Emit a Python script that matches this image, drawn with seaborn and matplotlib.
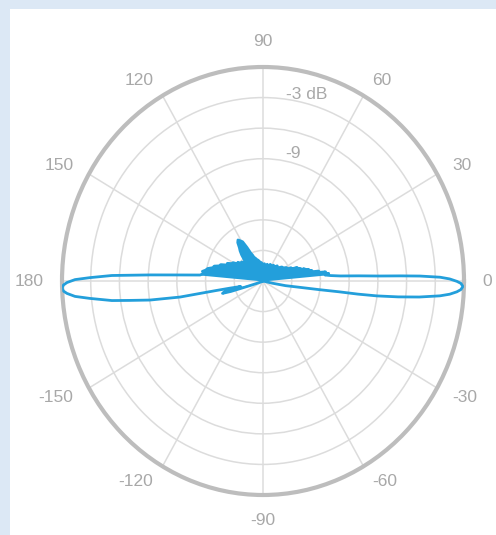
import numpy as np
import pandas as pd
import matplotlib
matplotlib.use("Agg")
import matplotlib.pyplot as plt
from matplotlib.patches import Rectangle
import seaborn as sns

# Radiation pattern: azimuth (deg, counter-clockwise from 0) and relative gain (dB)
angle_deg = [
    -14, -12.5, -11, -9.5, -8.2, -7.6, -7.4, -7.0, -6.3, -5.5, -4.5, -3.8,
    -3.0, -2.35, -1.5, -0.65, -0.1, 0.6, 1.15, 1.7, 2.0, 2.3, 2.9, 3.5, 4.3,
    5.2,
    6.2, 7, 7.8, 8.6, 9.5, 10.5, 11.5, 12.5, 13.5, 14.5, 15.5, 16.5, 17.5,
    19, 20.5, 22, 24, 26, 28, 31, 35, 40, 45, 50, 55, 60, 65, 70, 75, 80,
    85, 90, 95, 100, 104, 107, 110, 112, 113.5, 115, 117, 119, 121, 123,
    125, 127, 129, 131, 133, 135, 137.5, 140, 142.5, 145,
    147.5, 150, 152.5, 155, 157.5, 160, 162, 164, 166, 168, 170, 171.5,
    173, 174.9,
    176.3, 177.1, 178.04, 178.96, 179.6, 180.42, 181.08, 181.87, 182.7,
    183.4, 184.4, 185.4, 186.93, 187.8, 189.0, 190.3, 190.5, 190.8, 191.5,
    193,
    194, 195, 196, 197, 198, 200, 205, 220, 260, 300, 340, 346,
]
gain_db = [
    -21, -20, -18.6, -17.5, -15, -13, -11, -9, -6.8, -4.6, -2.45, -1.45,
    -0.72, -0.32, -0.1, -0.32, -0.74, -1.5, -2.5, -4.6, -6.6, -8.8, -11,
    -12.9, -13.9, -14.5,
    -14.1, -14.8, -14.4, -15.6, -15.1, -16.2, -15.8, -16.6, -16.1, -16.9,
    -16.5, -17.2, -16.9, -17.4, -17.2, -17.9, -17.8, -18.4, -18.2, -18.5,
    -18.6, -19.0, -18.9, -19.2, -19.1, -19.4, -19.2, -19.5, -19.3, -19.5,
    -19.3, -19.4, -19.2, -19.1, -18.9, -18.8, -18.6, -18.5, -18.2, -18.0,
    -17.3, -16.6, -16.4, -16.2, -16.4, -16.9, -17.2, -17.6, -18.1, -18.4,
    -18.5, -18.1, -18.2, -17.8, -17.9, -17.4, -17.3, -16.9,
    -16.9, -16.3, -16.2, -15.7, -15.6, -15.1, -14.9, -14.6, -14.8, -14.4,
    -11.8, -9.2, -5.2, -2.9, -1.36, -0.52, -0.15, 0, -0.12, -0.48, -1.3,
    -2.84, -5.1, -6.97, -9.05, -12.2, -14.3, -16.0, -17.5, -18.6,
    -17.8, -16.8, -16.6, -17.5, -19.3, -20.3, -20.8, -21, -21, -21, -21, -21,
]

# Grid definition
ring_db = [-18, -15, -12, -9, -6, -3]
ring_text = ["-3 dB", "-9"]
ring_text_db = [-3, -9]
spoke_deg = [0, 30, 60, 90, 120, 150, 180, 210, 240, 270, 300, 330]
spoke_labels = ["0", "30", "60", "90", "120", "150", "180",
                "-150", "-120", "-90", "-60", "-30"]
r_min, r_max = -21, 0

line_color = "#239fdb"
grid_color = "#dcdcdc"
text_color = "#a8a8a8"

sns.set_theme(style="white")
plt.rcParams["font.family"] = ["Liberation Sans", "DejaVu Sans"]

W, H = 496, 535
fig = plt.figure(figsize=(W / 100, H / 100), dpi=100, facecolor="#dce8f5")
fig.add_artist(Rectangle((10 / W, 0), 1 - 10 / W, 1 - 9 / H,
                         transform=fig.transFigure, facecolor="white",
                         edgecolor="none", zorder=-5))

ax = fig.add_axes([62 / W, 40 / H, 402 / W, 428 / H], projection="polar")
ax.set_aspect("auto")
ax.set_facecolor("white")

df = pd.DataFrame({"theta": np.deg2rad(angle_deg), "gain": gain_db})
df["deg"] = angle_deg

# Solid side-lobe clutter around the origin (outside the two main beams)
side = df[((df["deg"] >= 5.2) & (df["deg"] <= 174.9)) |
          ((df["deg"] >= 193) & (df["deg"] <= 198))]
for part in (side[side["deg"] < 180], side[side["deg"] > 180]):
    ax.fill_between(part["theta"], r_min, part["gain"], color=line_color,
                    linewidth=0, zorder=2)

sns.lineplot(data=df, x="theta", y="gain", sort=False, estimator=None,
             ax=ax, color=line_color, linewidth=2.0, zorder=3)

ax.set_ylim(r_min, r_max)
ax.set_xlabel("")
ax.set_ylabel("")
ax.set_xticks(np.deg2rad(spoke_deg))
ax.set_xticklabels([])
ax.set_yticks(ring_db)
ax.set_yticklabels([])
ax.tick_params(length=0)
ax.grid(True, color=grid_color, linewidth=1.1)
ax.spines["polar"].set_color("#bdbdbd")
ax.spines["polar"].set_linewidth(3)

# Angle labels around the rim
for deg, lab in zip(spoke_deg, spoke_labels):
    rad = np.deg2rad(deg)
    c, s = np.cos(rad), np.sin(rad)
    ha = "center" if abs(c) < 0.1 else ("left" if c > 0 else "right")
    va = "center" if abs(s) < 0.9 else ("bottom" if s > 0 else "top")
    ax.annotate(lab, xy=(rad, r_max), xycoords="data",
                xytext=(18 * c, 18 * s), textcoords="offset pixels",
                ha=ha, va=va, fontsize=12.5, color=text_color,
                annotation_clip=False)

# Ring level labels
for db, lab in zip(ring_text_db, ring_text):
    ax.text(np.deg2rad(76), db + 0.9, lab, ha="center", va="center",
            fontsize=12.5, color=text_color, zorder=2)

fig.savefig("out.png", dpi=100, facecolor=fig.get_facecolor())
